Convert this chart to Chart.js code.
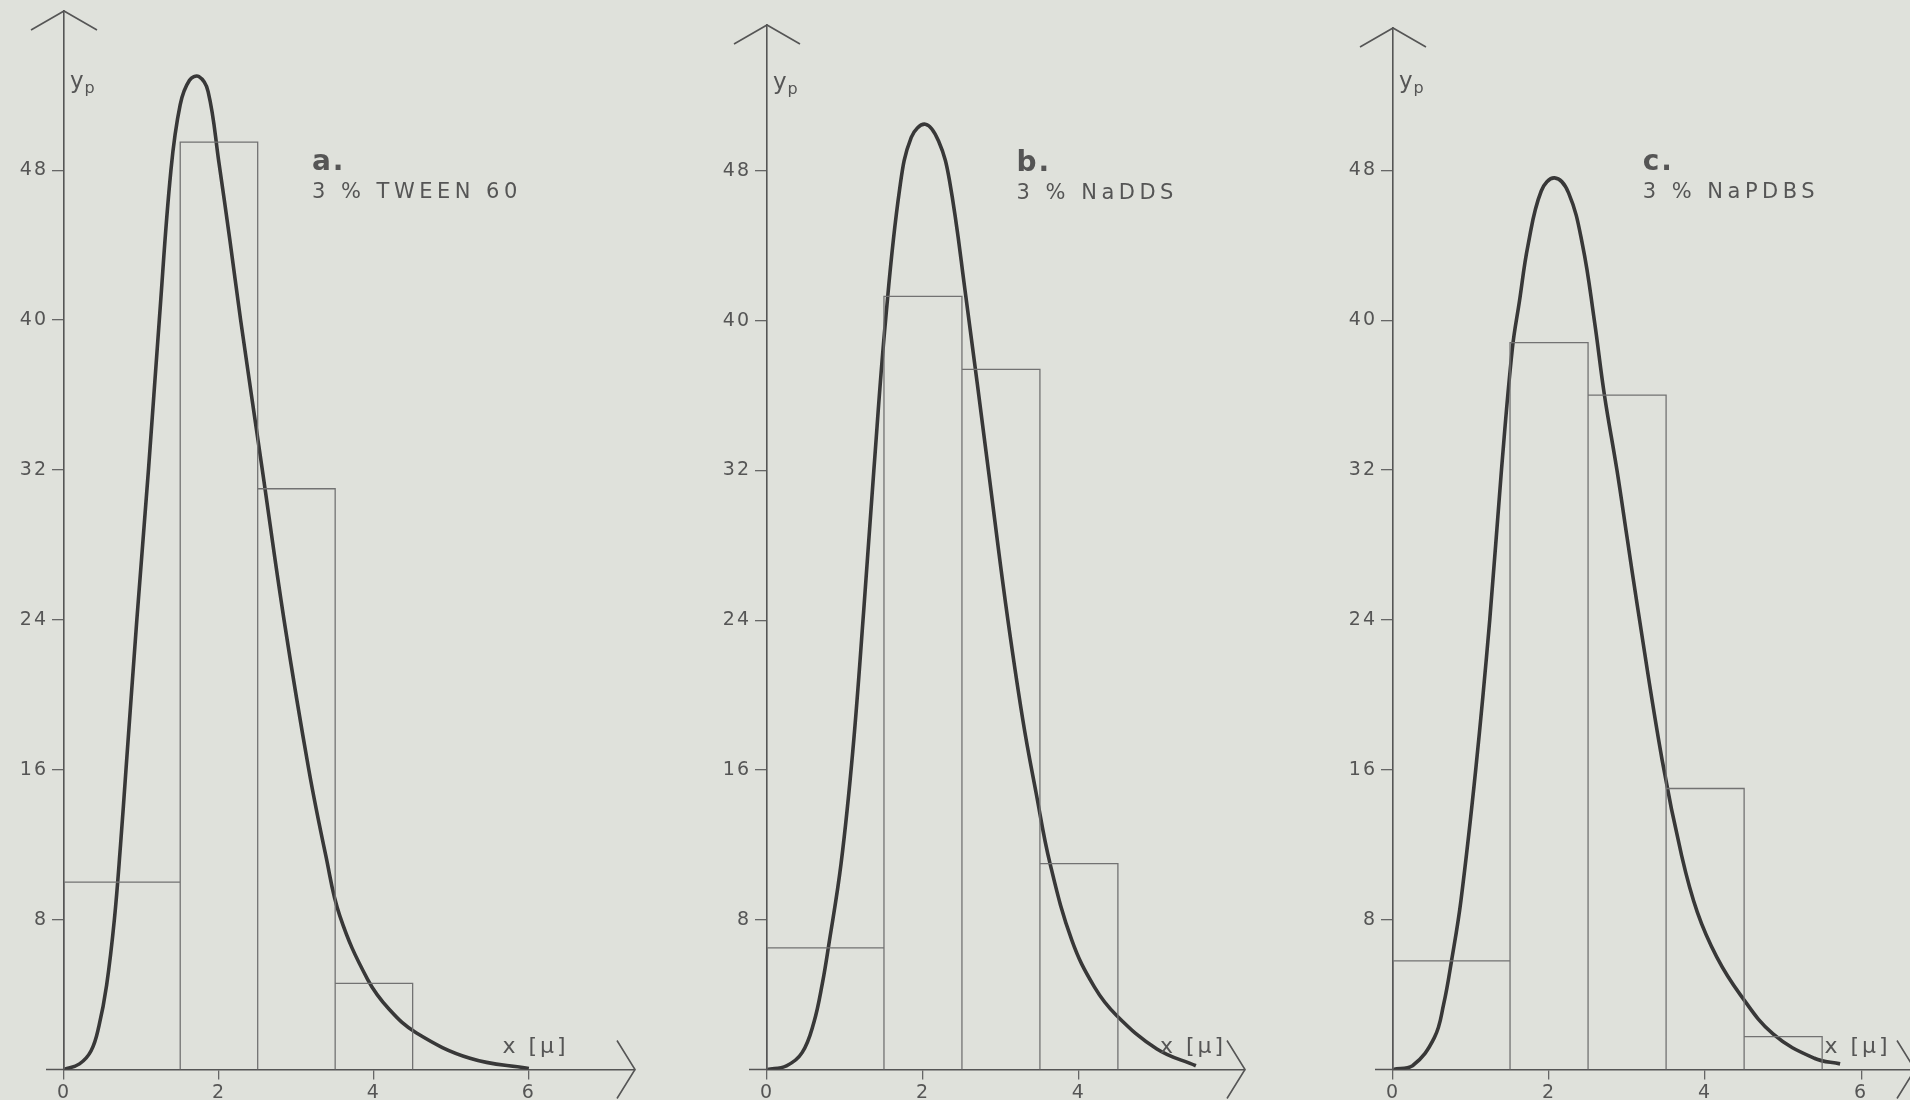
<!DOCTYPE html>
<html>
<head>
<meta charset="utf-8">
<style>
  html, body { margin: 0; padding: 0; overflow: hidden; background: #dfe1db; }
  body { width: 1910px; height: 1100px; position: relative; }
  canvas { position: absolute; top: 0; }
</style>
</head>
<body>
<canvas id="chartA" width="700" height="1120" style="left:0px"></canvas>
<canvas id="chartB" width="600" height="1120" style="left:700px"></canvas>
<canvas id="chartC" width="640" height="1120" style="left:1300px"></canvas>

<script src="https://cdn.jsdelivr.net/npm/chart.js@4.4.1/dist/chart.umd.min.js"></script>
<script>

    // --- data ---
    const binEdgesA = [0, 1.5, 2.5, 3.5, 4.5];
    const barsA = [10, 49.5, 31, 4.6];
    const curveXA = [0, 0.2, 0.35, 0.45, 0.55, 0.65, 0.73, 0.8, 0.94, 1.09, 1.23, 1.38, 1.5, 1.62, 1.74, 1.86, 2.0, 2.14, 2.28, 2.56, 2.84, 3.16, 3.38, 3.56, 3.92, 4.2, 4.55, 5.24, 6.0];
    const curveYA = [0, 0.3, 1.0, 2.3, 4.5, 8, 12, 16, 24, 32, 40, 48, 51.5, 52.8, 53.0, 52.2, 48.4, 44.3, 40, 32, 24, 16, 11.4, 8.2, 4.8, 3.2, 1.95, 0.6, 0.05];

    const binEdgesB = [0, 1.5, 2.5, 3.5, 4.5];
    const barsB = [6.5, 41.3, 37.4, 11.0];
    const curveXB = [0, 0.25, 0.45, 0.6, 0.71, 0.79, 0.95, 1.1, 1.24, 1.37, 1.52, 1.7, 1.85, 2.03, 2.2, 2.34, 2.55, 2.84, 3.06, 3.28, 3.45, 3.63, 3.91, 4.2, 4.48, 5.0, 5.5];
    const curveYB = [0, 0.2, 0.9, 2.5, 4.6, 6.6, 11, 17, 24.5, 32, 40, 47, 49.8, 50.5, 49.6, 47.5, 41.3, 32, 24.9, 18.7, 14.8, 11.0, 6.9, 4.4, 2.9, 1.1, 0.2];

    const binEdgesC = [0, 1.5, 2.5, 3.5, 4.5, 5.5];
    const barsC = [5.8, 38.8, 36.0, 15.0, 1.75];
    const curveXC = [0, 0.25, 0.53, 0.65, 0.75, 0.87, 1.06, 1.24, 1.39, 1.53, 1.62, 1.73, 1.9, 2.07, 2.25, 2.43, 2.58, 2.71, 2.87, 3.0, 3.13, 3.45, 3.7, 3.9, 4.15, 4.45, 4.87, 5.4, 5.73];
    const curveYC = [0, 0.2, 1.7, 3.5, 5.8, 9, 16, 24, 32, 38.5, 41, 44, 46.9, 47.6, 46.8, 44, 40, 36, 32, 28.4, 24.8, 16.5, 11.4, 8.4, 6, 4, 1.9, 0.6, 0.3];

    const yTicks = [8, 16, 24, 32, 40, 48];
    const xTicksA = [0, 2, 4, 6];
    const xTicksB = [0, 2, 4];
    const xTicksC = [0, 2, 4, 6];

    const panelLetters = ['a.', 'b.', 'c.'];
    const panelNotes = ['3 % TWEEN 60', '3 % NaDDS', '3 % NaPDBS'];

    // --- layout of the three panels ---
    const yAxisWidth = [64, 67, 93];
    const padTop = [11, 25, 28];
    const padRight = [65, 55, 25];
    const xMax = [7.37, 6.13, 6.69];
    const yMax = [56.5, 55.8, 55.6];
    const xLabelAt = [5.66, 5.04, 5.53];

    const INK = '#555';
    const FONT = '"DejaVu Sans", sans-serif';

    function histPoints(edges, heights) {
        const pts = [];
        heights.forEach((h, i) => {
            pts.push({x: edges[i], y: 0}, {x: edges[i], y: h}, {x: edges[i + 1], y: h}, {x: edges[i + 1], y: 0});
        });
        return pts;
    }

    function curvePoints(xs, ys) {
        return xs.map((x, i) => ({x: x, y: ys[i]}));
    }

    const decor = {
        id: 'decor',
        beforeDraw(chart) {
            chart.ctx.letterSpacing = '2px';
        },
        afterDraw(chart, args, opts) {
            const {ctx, chartArea: a, scales: {x, y}} = chart;
            ctx.save();
            ctx.strokeStyle = INK;
            ctx.lineWidth = 1.6;
            ctx.beginPath();
            // arrow heads and the short stub left of the origin
            ctx.moveTo(a.left - 33, a.top + 19);
            ctx.lineTo(a.left, a.top);
            ctx.lineTo(a.left + 33, a.top + 19);
            ctx.moveTo(a.right - 18, a.bottom - 29);
            ctx.lineTo(a.right, a.bottom);
            ctx.lineTo(a.right - 18, a.bottom + 29);
            ctx.moveTo(a.left - 18, a.bottom);
            ctx.lineTo(a.left, a.bottom);
            ctx.stroke();

            ctx.fillStyle = INK;
            ctx.textAlign = 'left';
            ctx.textBaseline = 'alphabetic';

            ctx.letterSpacing = '2px';
            ctx.font = 'bold 28px ' + FONT;
            ctx.fillText(opts.letter, x.getPixelForValue(3.2), y.getPixelForValue(48));

            ctx.letterSpacing = '4.5px';
            ctx.font = '21px ' + FONT;
            ctx.fillText(opts.note, x.getPixelForValue(3.2), y.getPixelForValue(46.5));

            ctx.letterSpacing = '0px';
            ctx.font = '23px ' + FONT;
            const yb = y.getPixelForValue(52.4);
            ctx.fillText('y', a.left + 6, yb);
            const w = ctx.measureText('y').width;
            ctx.font = '16px ' + FONT;
            ctx.fillText('p', a.left + 7 + w, yb + 5);

            ctx.letterSpacing = '3px';
            ctx.font = '22px ' + FONT;
            ctx.fillText('x [\u03bc]', x.getPixelForValue(opts.xLabelAt), y.getPixelForValue(0.9));
            ctx.restore();
            ctx.letterSpacing = '0px';
        }
    };

    function makeChart(id, i, edges, bars, cx, cy, xTicks) {
        return new Chart(document.getElementById(id), {
            type: 'scatter',
            data: {
                datasets: [{
                    data: histPoints(edges, bars),
                    showLine: true,
                    borderColor: '#727272',
                    borderWidth: 1.3,
                    pointRadius: 0,
                    tension: 0
                }, {
                    data: curvePoints(cx, cy),
                    showLine: true,
                    borderColor: '#383838',
                    borderWidth: 3.6,
                    pointRadius: 0,
                    tension: 0.4
                }]
            },
            options: {
                responsive: false,
                animation: false,
                layout: {padding: {top: padTop[i], right: padRight[i], left: 0, bottom: 0}},
                plugins: {
                    legend: {display: false},
                    tooltip: {enabled: false},
                    decor: {letter: panelLetters[i], note: panelNotes[i], xLabelAt: xLabelAt[i]}
                },
                scales: {
                    x: {
                        type: 'linear',
                        min: 0,
                        max: xMax[i],
                        afterBuildTicks: s => { s.ticks = xTicks.map(v => ({value: v})); },
                        afterFit: s => { s.height = 50.5; s.paddingLeft = 0; s.paddingRight = 0; },
                        ticks: {autoSkip: false, color: INK, padding: 2, font: {family: FONT, size: 19}},
                        grid: {drawOnChartArea: false, drawTicks: true, tickLength: 10, color: '#666', lineWidth: 1.3},
                        border: {display: true, color: INK, width: 1.6}
                    },
                    y: {
                        type: 'linear',
                        min: 0,
                        max: yMax[i],
                        afterBuildTicks: s => { s.ticks = yTicks.map(v => ({value: v})); },
                        afterFit: s => { s.width = yAxisWidth[i]; s.paddingTop = 0; s.paddingBottom = 0; },
                        ticks: {autoSkip: false, color: INK, padding: 4, font: {family: FONT, size: 19}},
                        grid: {drawOnChartArea: false, drawTicks: true, tickLength: 12, color: '#666', lineWidth: 1.3},
                        border: {display: true, color: INK, width: 1.6}
                    }
                }
            },
            plugins: [decor]
        });
    }

    makeChart('chartA', 0, binEdgesA, barsA, curveXA, curveYA, xTicksA);
    makeChart('chartB', 1, binEdgesB, barsB, curveXB, curveYB, xTicksB);
    makeChart('chartC', 2, binEdgesC, barsC, curveXC, curveYC, xTicksC);

</script>
</body>
</html>
